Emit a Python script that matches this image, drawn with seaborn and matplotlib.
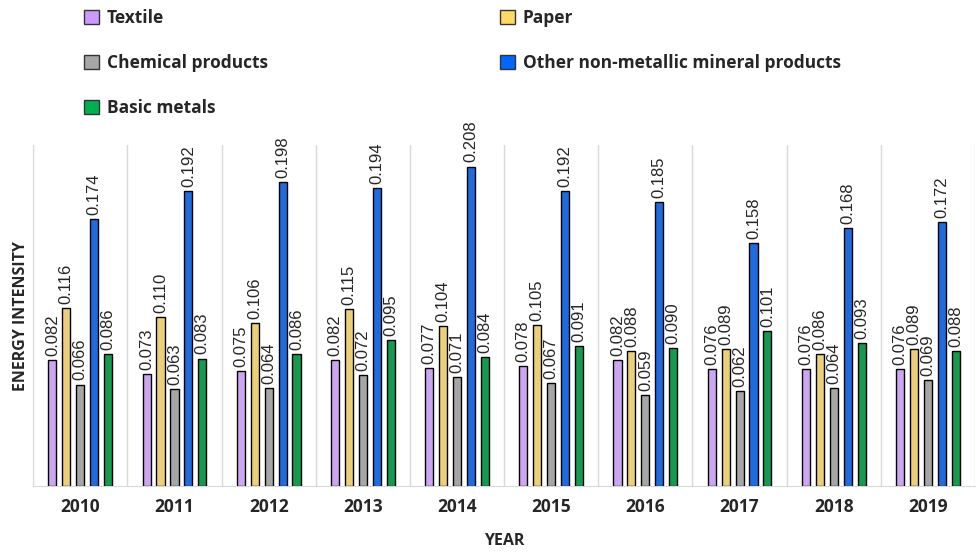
import pandas as pd
import numpy as np
import matplotlib
matplotlib.use("Agg")
import matplotlib.pyplot as plt
import seaborn as sns
from matplotlib.patches import Patch

# -----------------------------
# Data
# -----------------------------
years = ["2010", "2011", "2012", "2013", "2014", "2015", "2016", "2017", "2018", "2019"]
sectors = ["Textile", "Paper", "Chemical products",
           "Other non-metallic mineral products", "Basic metals"]

textile = [0.082, 0.073, 0.075, 0.082, 0.077, 0.078, 0.082, 0.076, 0.076, 0.076]
paper = [0.116, 0.110, 0.106, 0.115, 0.104, 0.105, 0.088, 0.089, 0.086, 0.089]
chemical = [0.066, 0.063, 0.064, 0.072, 0.071, 0.067, 0.059, 0.062, 0.064, 0.069]
non_metallic = [0.174, 0.192, 0.198, 0.194, 0.208, 0.192, 0.185, 0.158, 0.168, 0.172]
basic_metals = [0.086, 0.083, 0.086, 0.095, 0.084, 0.091, 0.090, 0.101, 0.093, 0.088]

colors = ["#CC99FF", "#FFD966", "#A6A6A6", "#0066FF", "#00B050"]

series = [textile, paper, chemical, non_metallic, basic_metals]
rows = []
for name, vals in zip(sectors, series):
    for yr, v in zip(years, vals):
        rows.append({"Year": yr, "Sector": name, "Value": v})
df = pd.DataFrame(rows)

# -----------------------------
# Plot
# -----------------------------
sns.set_style("white")
plt.rcParams["font.family"] = ["Liberation Sans", "DejaVu Sans"]
bold_font = ["Open Sans", "DejaVu Sans"]

fig = plt.figure(figsize=(9.76, 5.56), dpi=100)
ax = fig.add_axes([0.034, 0.126, 0.965, 0.613])

sns.barplot(data=df, x="Year", y="Value", hue="Sector", hue_order=sectors,
            palette=colors, width=0.74, gap=0.42, edgecolor="black",
            linewidth=1, legend=False, ax=ax)

for cont in ax.containers:
    ax.bar_label(cont, fmt="%.3f", rotation=90, padding=3, fontsize=12)

ax.set_ylim(0, 0.222)
ax.set_xlim(-0.5, len(years) - 0.5)
ax.set_yticks([])

# vertical separators between years
ax.set_xticks(np.arange(-0.5, len(years), 1), minor=True)
ax.grid(which="minor", axis="x", color="#D9D9D9", linewidth=1)
ax.tick_params(axis="x", which="both", length=0, pad=9)
for lab in ax.get_xticklabels():
    lab.set_fontweight("bold")
    lab.set_fontsize(12.5)
    lab.set_family(bold_font)

for s in ["top", "right"]:
    ax.spines[s].set_visible(False)
ax.spines["left"].set_color("#D9D9D9")
ax.spines["bottom"].set_color("#D9D9D9")

ax.set_xlabel("YEAR", fontweight="bold", fontsize=11.5, family=bold_font, labelpad=12)
ax.set_ylabel("ENERGY INTENSITY", fontweight="bold", fontsize=11.5, family=bold_font, labelpad=3)

# legend (column-wise order for a 2-column layout)
order = [0, 2, 4, 1, 3]
handles = [Patch(facecolor=colors[i], edgecolor="#333333", linewidth=1, label=sectors[i]) for i in order]
fig.legend(handles=handles, ncol=2, loc="upper left", bbox_to_anchor=(0.07, 1.012),
           frameon=False, handlelength=0.85, handleheight=0.85, handletextpad=0.45,
           columnspacing=13.4, labelspacing=1.55,
           prop={"family": bold_font, "weight": "bold", "size": 12.5})

fig.savefig("out.png", dpi=100)
